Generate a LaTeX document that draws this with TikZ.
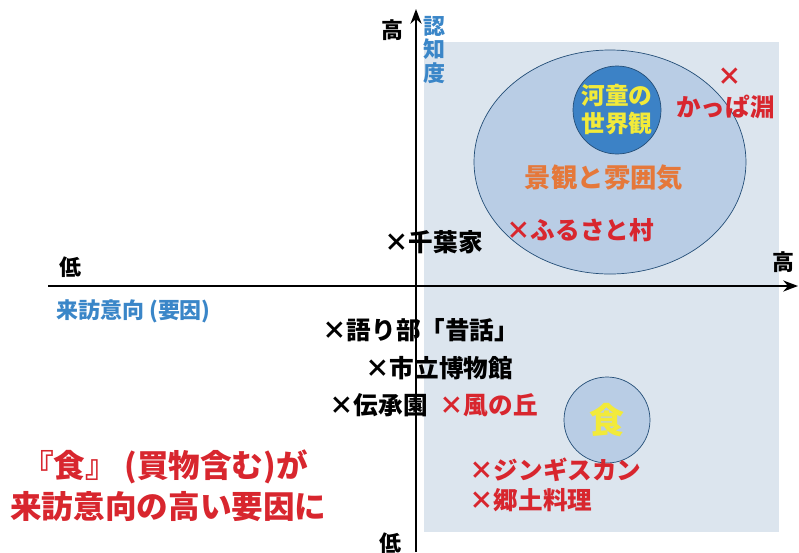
\documentclass[tikz,border=0pt]{standalone}
\usepackage{fontspec}
\setmainfont{Noto Sans CJK JP}
\usetikzlibrary{arrows.meta}

\definecolor{quadfill}{HTML}{DCE5EE}
\definecolor{ellfill}{HTML}{B9CDE5}
\definecolor{ringblue}{HTML}{3C82C6}
\definecolor{txtred}{HTML}{D8262E}
\definecolor{txtblue}{HTML}{3A86C8}
\definecolor{txtorange}{HTML}{E5783A}
\definecolor{txtyellow}{HTML}{F2EA3A}

\begin{document}
\begin{tikzpicture}[x=0.02cm, y=-0.02cm, >=Stealth,
    lbl/.style={font=\bfseries\fontsize{14}{15}\selectfont, inner sep=0pt},
    axlbl/.style={font=\bfseries\fontsize{12.5}{14}\selectfont, inner sep=0pt},
    big/.style={font=\bfseries\fontsize{18}{20}\selectfont, inner sep=0pt, text=txtred}]
    % Page frame
    \useasboundingbox[fill=white] (0,0) rectangle (799,552);

    % Shaded quadrant
    \fill[quadfill] (424,42) rectangle (779,532);

    % Big ellipse and inner circles
    \draw[fill=ellfill, draw=ringblue!60!black, thin] (610,162) ellipse [x radius=136, y radius=112];
    \node[circle, fill=ringblue, draw=ringblue!60!black, thin, minimum size=88*0.02cm, inner sep=0pt,
          align=center, text=txtyellow, font=\bfseries\fontsize{13.5}{16}\selectfont] (kappa) at (617,110) {河童の\\世界観};
    \node[circle, fill=ellfill, draw=ringblue!60!black, thin, minimum size=86*0.02cm, inner sep=0pt,
          text=txtyellow, font=\bfseries\fontsize{20}{20}\selectfont] (shoku) at (607,420) {食};

    % Axes
    \coordinate (xs) at (48,286);
    \coordinate (xe) at (798,286);
    \coordinate (ys) at (416,552);
    \coordinate (ye) at (416,9);
    \draw[->, line width=1.2pt] (xs) -- (xe);
    \draw[->, line width=1.2pt] (ys) -- (ye);

    % Axis labels
    \node[axlbl] (hiy) at (392,30) {高};
    \node[axlbl, text=txtblue, align=center, font=\bfseries\fontsize{12.5}{13.2}\selectfont] (ninchi) at (434,50) {認\\知\\度};
    \node[axlbl] (lox) at (70,267) {低};
    \node[axlbl] (hix) at (783,262) {高};
    \node[axlbl, text=txtblue, anchor=west] (raiho) at (56,311) {来訪意向 (要因)};
    \node[axlbl] (loy) at (390,543) {低};

    % Items
    \node[lbl, text=txtorange, font=\bfseries\fontsize{15}{16}\selectfont] (keikan) at (604,178) {景観と雰囲気};
    \node[lbl, text=txtred] (x1) at (730,77) {×};
    \node[lbl, text=txtred, anchor=west] (kappabuchi) at (676,107) {かっぱ淵};
    \node[lbl, text=txtred, anchor=west] (furusato) at (506,230) {×ふるさと村};
    \node[lbl, anchor=west] (chiba) at (384,242) {×千葉家};
    \node[lbl, anchor=west] (katari) at (322,330) {×語り部「昔話」};
    \node[lbl, anchor=west] (museum) at (365,368) {×市立博物館};
    \node[lbl, anchor=west] (densho) at (329,405) {×伝承園};
    \node[lbl, text=txtred, anchor=west] (kaze) at (439,405) {×風の丘};
    \node[lbl, text=txtred, anchor=west] (jingis) at (469,470) {×ジンギスカン};
    \node[lbl, text=txtred, anchor=west] (kyodo) at (469,500) {×郷土料理};

    % Note
    \node[big, anchor=west] (note1) at (22,467) {『食』 (買物含む)が};
    \node[big, anchor=west] (note2) at (10,507) {来訪意向の高い要因に};
\end{tikzpicture}
\end{document}
